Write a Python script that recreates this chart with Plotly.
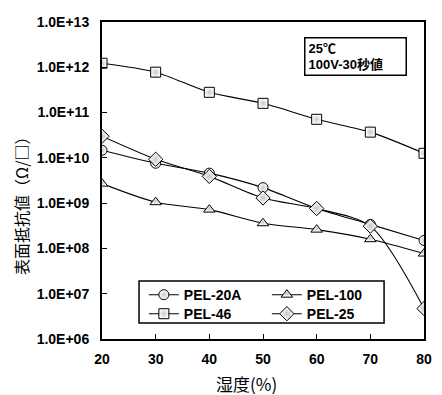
import plotly.graph_objects as go

humidity = [20, 30, 40, 50, 60, 70, 80]
pel_20a = [1.47e10, 7.6e9, 4.6e9, 2.2e9, 7.6e8, 3.4e8, 1.5e8]
pel_100 = [2.7e9, 1.05e9, 7.2e8, 3.6e8, 2.6e8, 1.6e8, 7.7e7]
pel_46 = [1.23e12, 7.8e11, 2.8e11, 1.6e11, 7.1e10, 3.7e10, 1.26e10]
pel_25 = [3.0e10, 9.3e9, 3.9e9, 1.3e9, 7.6e8, 3.1e8, 4.7e6]

y_tickvals = [1e6, 1e7, 1e8, 1e9, 1e10, 1e11, 1e12, 1e13]
y_ticktext = ["1.0E+06", "1.0E+07", "1.0E+08", "1.0E+09", "1.0E+10", "1.0E+11", "1.0E+12", "1.0E+13"]
x_tickvals = [20, 30, 40, 50, 60, 70, 80]

series = [
    ("PEL-20A", pel_20a, "circle", 10, "legend"),
    ("PEL-100", pel_100, "triangle-up", 10, "legend2"),
    ("PEL-46", pel_46, "square", 10, "legend3"),
    ("PEL-25", pel_25, "diamond", 11, "legend4"),
]

font_main = "Liberation Sans, Arial, Noto Sans CJK JP, sans-serif"
font_jp = "Noto Sans CJK JP, sans-serif"

fig = go.Figure()
for name, vals, sym, sz, lg in series:
    fig.add_trace(go.Scatter(
        x=humidity, y=vals, name=name, mode="lines+markers", legend=lg,
        line=dict(color="black", width=1.1, shape="spline", smoothing=0.8),
        marker=dict(symbol=sym, size=sz, color="white",
                    gradient=dict(type="radial", color="#c8c8c8"),
                    line=dict(color="black", width=1)),
    ))

legend_font = dict(family=font_main, size=14, color="black", weight="bold")


def leg(x, y):
    return dict(x=x, y=y, xanchor="left", yanchor="top",
                bgcolor="rgba(0,0,0,0)", borderwidth=0, font=legend_font,
                tracegroupgap=0, itemwidth=30)


fig.update_layout(
    width=434, height=387,
    margin=dict(l=94, r=18, t=14, b=56),
    paper_bgcolor="white", plot_bgcolor="white",
    font=dict(family=font_main, size=13, color="black"),
    showlegend=True,
    legend=leg(0.130, 0.189),
    legend2=leg(0.512, 0.189),
    legend3=leg(0.130, 0.129),
    legend4=leg(0.512, 0.129),
    shapes=[dict(type="rect", xref="paper", yref="paper",
                 x0=0.115, x1=0.876, y0=0.0505, y1=0.183,
                 line=dict(color="black", width=1.5), fillcolor="white",
                 layer="above")],
    annotations=[
        dict(text="25℃<br>100V-30秒値", xref="paper", yref="paper",
             x=0.627, y=0.953, xanchor="left", yanchor="top", align="left",
             width=94, height=30,
             showarrow=False, bordercolor="black", borderwidth=1.5, borderpad=3,
             bgcolor="white",
             font=dict(family=font_main, size=13, color="black", weight="bold")),
        dict(text="湿度(%)", xref="paper", yref="paper", x=0.45, y=-0.139,
             xanchor="center", yanchor="middle", showarrow=False,
             font=dict(family=font_jp, size=17, color="black")),
        dict(text="表面抵抗値（Ω/□）", xref="paper", yref="paper", x=-0.252, y=0.432,
             xanchor="center", yanchor="middle", showarrow=False, textangle=-90,
             font=dict(family=font_jp, size=16, color="black")),
    ],
)

fig.update_xaxes(
    range=[20, 80], tickvals=x_tickvals, ticks="inside", ticklen=5,
    tickwidth=1, tickcolor="black",
    showline=True, linecolor="black", linewidth=2, mirror=True,
    showgrid=False, zeroline=False, automargin=False,
    tickfont=dict(family=font_main, size=14, weight="bold"),
    ticklabelstandoff=6,
)
fig.update_yaxes(
    type="log", range=[6, 13], tickvals=y_tickvals, ticktext=y_ticktext,
    ticks="inside", ticklen=5, tickwidth=1, tickcolor="black",
    showline=True, linecolor="black", linewidth=2, mirror=True,
    showgrid=False, zeroline=False, automargin=False,
    tickfont=dict(family=font_main, size=14, weight="bold"),
    ticklabelstandoff=8,
)

fig.write_html("out.html")
